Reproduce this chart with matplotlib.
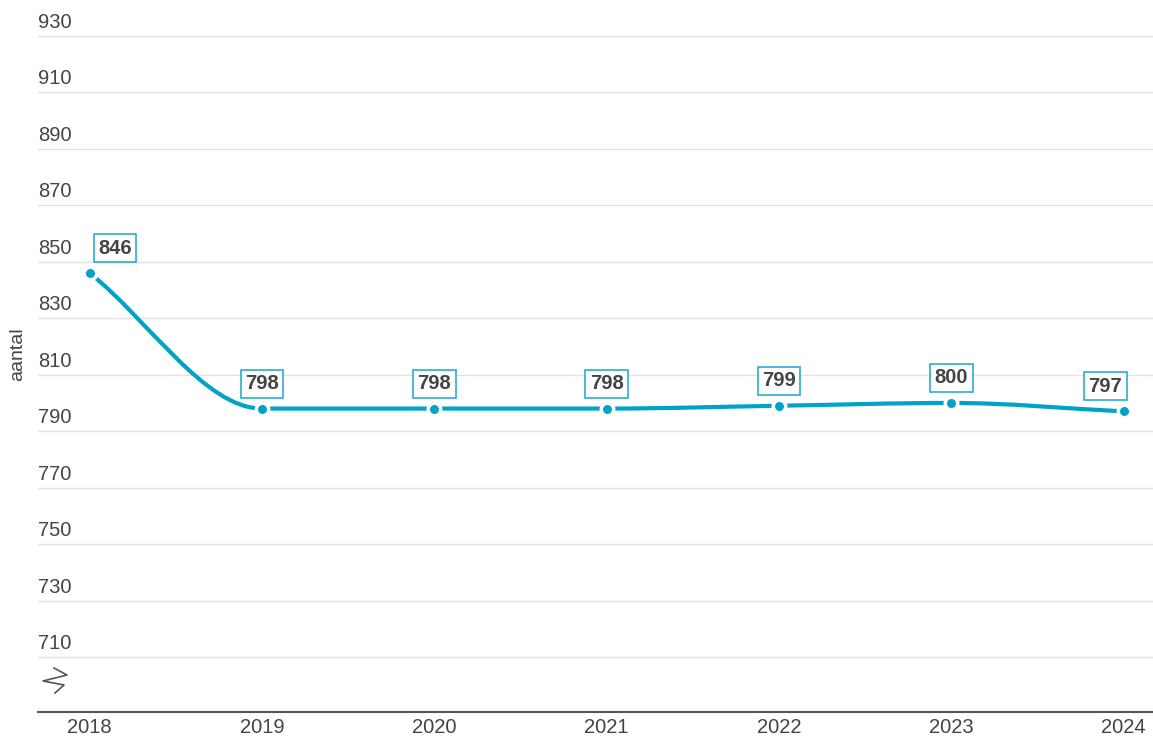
import numpy as np
import matplotlib.pyplot as plt
from matplotlib.path import Path
from matplotlib.patches import PathPatch
from matplotlib.lines import Line2D
import matplotlib.transforms as mtransforms

plt.rcParams['font.family'] = ['Liberation Sans', 'DejaVu Sans']

years = [2018, 2019, 2020, 2021, 2022, 2023, 2024]
aantal = [846, 798, 798, 798, 799, 800, 797]
yticks = [710, 730, 750, 770, 790, 810, 830, 850, 870, 890, 910, 930]

blue = '#00a3c7'
text_col = '#444444'


def monotone_path(x, y):
    # Fritsch-Carlson slopes, drawn as cubic Bezier segments
    x = np.asarray(x, float)
    y = np.asarray(y, float)
    h = np.diff(x)
    d = np.diff(y) / h
    m = np.zeros_like(y)
    m[0], m[-1] = d[0], d[-1]
    for i in range(1, len(y) - 1):
        if d[i - 1] * d[i] <= 0:
            m[i] = 0
        else:
            m[i] = 2 / (1 / d[i - 1] + 1 / d[i])
    verts = [(x[0], y[0])]
    codes = [Path.MOVETO]
    for i in range(len(h)):
        verts += [(x[i] + h[i] / 3, y[i] + m[i] * h[i] / 3),
                  (x[i + 1] - h[i] / 3, y[i + 1] - m[i + 1] * h[i] / 3),
                  (x[i + 1], y[i + 1])]
        codes += [Path.CURVE4] * 3
    return Path(verts, codes)


fig = plt.figure(figsize=(11.53, 7.38), dpi=100)
ax = fig.add_axes([38 / 1153, 26 / 738, 1 - 38 / 1153, 712 / 738])

ax.set_xlim(2017.70, 2024.17)
ax.set_ylim(690.5, 942.75)

for v in yticks:
    ax.axhline(v, color='#e3e3e3', lw=1, zorder=0)
ax.set_yticks([])
trans = mtransforms.blended_transform_factory(ax.transAxes, ax.transData)
for v in yticks:
    ax.annotate(str(v), (0, v), xycoords=trans, xytext=(0, 4),
                textcoords='offset pixels', ha='left', va='bottom',
                fontsize=14.5, color=text_col)

for s in ['top', 'right', 'left']:
    ax.spines[s].set_visible(False)
ax.spines['bottom'].set_color('#555555')
ax.spines['bottom'].set_linewidth(1.5)

ax.set_xticks(years)
ax.set_xticklabels([str(y) for y in years], fontsize=14.5, color=text_col)
ax.tick_params(axis='x', length=0, pad=4)

ax.add_patch(PathPatch(monotone_path(years, aantal), fill=False,
                       edgecolor=blue, lw=3, capstyle='round', zorder=3))
ax.plot(years, aantal, 'o', color=blue, ms=9, mec='white', mew=2.5, zorder=4)

for i, (x, y) in enumerate(zip(years, aantal)):
    ha = 'center'
    dx = 0
    if i == 0:
        ha, dx = 'left', 6
    elif i == len(years) - 1:
        ha, dx = 'right', -1
    ax.annotate(str(y), (x, y), xytext=(dx, 18), textcoords='offset points',
                ha=ha, va='center', fontsize=14.5, fontweight='bold',
                color=text_col, zorder=5,
                bbox=dict(boxstyle='square,pad=0.22', fc='white',
                          ec='#2aaed0', lw=1.2))

# axis break mark
fig.add_artist(Line2D([x / 1153 for x in [54, 67, 43, 64, 55]],
                      [1 - y / 738 for y in [668, 675, 681, 685, 693]],
                      color='#555555', lw=1.2))

fig.text(18 / 1153, 1 - 354 / 738, 'aantal', rotation=90, ha='center',
         va='center', fontsize=14, color=text_col)

fig.savefig('out.png', dpi=100)
